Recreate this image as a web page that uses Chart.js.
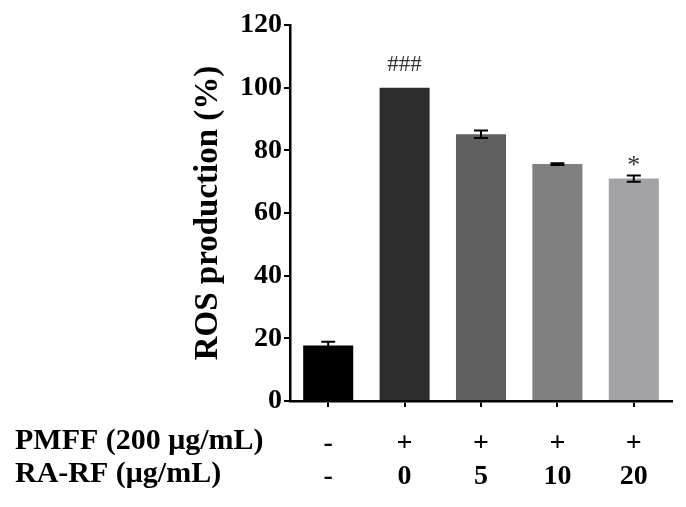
<!DOCTYPE html>
<html>
<head>
<meta charset="utf-8">
<script src="https://cdn.jsdelivr.net/npm/chart.js@4.4.1/dist/chart.umd.min.js"></script>
<style>
  html, body { margin: 0; padding: 0; background: #fff; }
  #wrap { width: 686px; height: 507px; }
</style>
</head>
<body>
<div id="wrap"><canvas id="chart" width="686" height="507"></canvas></div>
<script>
// chart values
var pmffRow = ['-', '+', '+', '+', '+'];
var raRow = ['-', '0', '5', '10', '20'];
var rosValues = [17.7, 100, 85.1, 75.6, 71.0];
var rosErrors = [1.2, 0, 1.2, 0.3, 1.0];
var barColors = ['#000000', '#2d2d2d', '#5f5f5f', '#808080', '#a3a3a7'];
var marks = ['', '###', '', '', '*'];
var rowTitles = ['PMFF (200 \u03bcg/mL)', 'RA-RF (\u03bcg/mL)'];
var yTicks = [0, 20, 40, 60, 80, 100, 120];

var serif = '"Liberation Serif", "Times New Roman", serif';

var labels = [];
for (var i = 0; i < pmffRow.length; i++) {
    labels.push([pmffRow[i], raRow[i]]);
}

var tickFontSize = 28;
var titleRowSize = 30;
var rowLineHeight = 33;
var rowPadding = 20;

// error bars, significance marks and row titles
var extras = {
    id: 'extras',
    afterDatasetsDraw: function(chart) {
        var ctx = chart.ctx;
        var x = chart.scales.x;
        var y = chart.scales.y;
        var meta = chart.getDatasetMeta(0);

        ctx.save();
        ctx.strokeStyle = '#000';
        ctx.lineWidth = 2;
        for (var i = 0; i < rosValues.length; i++) {
            if (!rosErrors[i]) continue;
            var cx = meta.data[i].x;
            var top = y.getPixelForValue(rosValues[i] + rosErrors[i]);
            var bot = y.getPixelForValue(rosValues[i] - rosErrors[i]);
            ctx.beginPath();
            ctx.moveTo(cx, top);
            ctx.lineTo(cx, bot);
            ctx.moveTo(cx - 7, top);
            ctx.lineTo(cx + 7, top);
            ctx.moveTo(cx - 7, bot);
            ctx.lineTo(cx + 7, bot);
            ctx.stroke();
        }

        ctx.fillStyle = '#333';
        ctx.textAlign = 'center';
        ctx.textBaseline = 'alphabetic';
        for (var j = 0; j < marks.length; j++) {
            if (!marks[j]) continue;
            var px = meta.data[j].x;
            var py = y.getPixelForValue(rosValues[j] + rosErrors[j]);
            if (marks[j] === '*') {
                ctx.font = '26px ' + serif;
                ctx.fillText(marks[j], px, py - 2);
            } else {
                ctx.font = '23px ' + serif;
                ctx.fillText(marks[j], px, py - 17);
            }
        }

        // row titles of the treatment table
        ctx.fillStyle = '#000';
        ctx.textAlign = 'left';
        ctx.textBaseline = 'middle';
        ctx.font = 'bold ' + titleRowSize + 'px ' + serif;
        var firstRow = x.top + 6 + rowPadding + rowLineHeight / 2 - 2;
        for (var r = 0; r < rowTitles.length; r++) {
            ctx.fillText(rowTitles[r], 15, firstRow + r * rowLineHeight);
        }
        ctx.restore();
    }
};

new Chart(document.getElementById('chart'), {
    type: 'bar',
    data: {
        labels: labels,
        datasets: [{
            data: rosValues,
            backgroundColor: barColors,
            borderWidth: 0,
            barPercentage: 0.655,
            categoryPercentage: 1.0
        }]
    },
    options: {
        responsive: false,
        animation: false,
        layout: { padding: { left: 180, top: 25, right: 14, bottom: 0 } },
        plugins: {
            legend: { display: false },
            tooltip: { enabled: false }
        },
        scales: {
            x: {
                grid: {
                    offset: false,
                    drawOnChartArea: false,
                    drawTicks: true,
                    tickLength: 6,
                    color: '#000',
                    lineWidth: 2
                },
                border: { color: '#000', width: 2.5 },
                ticks: {
                    color: '#000',
                    padding: rowPadding,
                    maxRotation: 0,
                    font: { family: serif, size: tickFontSize, weight: 'bold', lineHeight: rowLineHeight / tickFontSize }
                },
                afterFit: function(scale) { scale.height = 106; }
            },
            y: {
                min: 0,
                max: 120,
                afterBuildTicks: function(scale) {
                    scale.ticks = yTicks.map(function(v) { return { value: v }; });
                },
                grid: {
                    drawOnChartArea: false,
                    drawTicks: true,
                    tickLength: 6,
                    color: '#000',
                    lineWidth: 2
                },
                border: { color: '#000', width: 2.5 },
                ticks: {
                    color: '#000',
                    padding: 2,
                    font: { family: serif, size: 28, weight: 'bold' }
                },
                title: {
                    display: true,
                    text: 'ROS production (%)',
                    color: '#000',
                    padding: { top: 12, bottom: 0 },
                    font: { family: serif, size: 33, weight: 'bold', lineHeight: 1 }
                },
                afterFit: function(scale) { scale.width = 110; }
            }
        }
    },
    plugins: [extras]
});
</script>
</body>
</html>
